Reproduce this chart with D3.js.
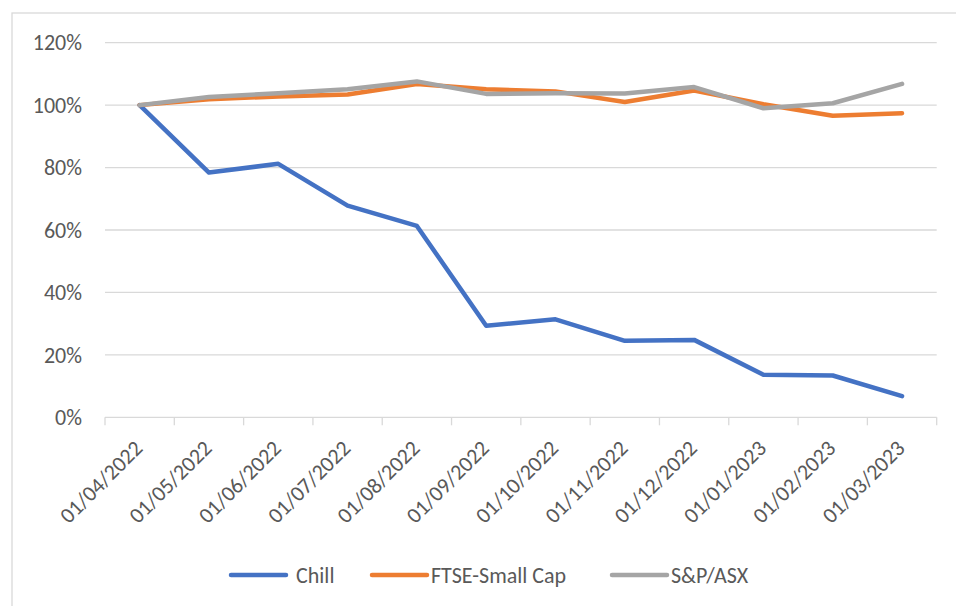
<!DOCTYPE html>
<html><head><meta charset="utf-8">
<script src="https://cdn.jsdelivr.net/npm/d3@7"></script>
<style>
html,body{margin:0;padding:0;background:#fff;}
svg{display:block;font-family:Carlito, Calibri, Lato, sans-serif;}
</style></head>
<body><svg id="c" width="956" height="606"></svg>
<script>
const categories = ["01/04/2022","01/05/2022","01/06/2022","01/07/2022","01/08/2022","01/09/2022","01/10/2022","01/11/2022","01/12/2022","01/01/2023","01/02/2023","01/03/2023"];
const chill = [1.000,0.784,0.812,0.678,0.613,0.293,0.314,0.245,0.248,0.136,0.134,0.068];
const ftse  = [1.000,1.019,1.028,1.034,1.068,1.051,1.044,1.010,1.047,1.003,0.966,0.974];
const spasx = [1.000,1.026,1.038,1.051,1.076,1.036,1.038,1.037,1.058,0.990,1.006,1.068];
const seriesNames = ["Chill","FTSE-Small Cap","S&P/ASX"];
const yTicks = [0,0.2,0.4,0.6,0.8,1.0,1.2];
const colors = ["#4472C4","#ED7D31","#A5A5A5"];

const svg = d3.select("#c");
const L = 105, R = 936.7, T = 42.7, B = 417.3;
const FS = 22;

// chart border
svg.append("rect").attr("x",12).attr("y",13).attr("width",960).attr("height",610)
  .attr("fill","#fff").attr("stroke","#d9d9d9").attr("stroke-width",1.3);

const x = d3.scaleBand().domain(categories).range([L,R]).padding(0);
const y = d3.scaleLinear().domain([0,1.2]).range([B,T]);

// gridlines
svg.append("g").selectAll("line").data(yTicks.slice(1)).join("line")
  .attr("x1",L).attr("x2",R).attr("y1",d=>y(d)).attr("y2",d=>y(d))
  .attr("stroke","#d9d9d9").attr("stroke-width",1.3);

// y labels
svg.append("g").selectAll("text").data(yTicks).join("text")
  .attr("x",82).attr("y",d=>y(d)).attr("dy","0.35em")
  .attr("text-anchor","end").attr("fill","#595959").attr("font-size",FS)
  .text(d=>d3.format(".0%")(d));

// x axis line + ticks
const ax = svg.append("g");
ax.append("line").attr("x1",L).attr("x2",R).attr("y1",B).attr("y2",B)
  .attr("stroke","#d9d9d9").attr("stroke-width",1.3);
const bounds = categories.map(c=>x(c)).concat([x(categories[categories.length-1])+x.bandwidth()]);
ax.selectAll("line.t").data(bounds).join("line").attr("class","t")
  .attr("x1",d=>d).attr("x2",d=>d).attr("y1",B).attr("y2",B+8)
  .attr("stroke","#d9d9d9").attr("stroke-width",1.3);

// x labels
svg.append("g").selectAll("text").data(categories).join("text")
  .attr("transform",d=>`translate(${x(d)+x.bandwidth()/2-7},${B+21}) rotate(-45)`)
  .attr("text-anchor","end").attr("dy","0.72em")
  .attr("fill","#595959").attr("font-size",FS).text(d=>d);

// lines
const data = [chill, ftse, spasx];
const line = d3.line().x((d,i)=>x(categories[i])+x.bandwidth()/2).y(d=>y(d));
svg.append("g").selectAll("path").data(data).join("path")
  .attr("d",line).attr("fill","none")
  .attr("stroke",(d,i)=>colors[i]).attr("stroke-width",4.5)
  .attr("stroke-linejoin","round").attr("stroke-linecap","round");

// legend
const legX = [231, 372, 612];
const lg = svg.append("g").selectAll("g").data(seriesNames).join("g")
  .attr("transform",(d,i)=>`translate(${legX[i]},575)`);
lg.append("line").attr("x1",0).attr("x2",55).attr("y1",0).attr("y2",0)
  .attr("stroke",(d,i)=>colors[i]).attr("stroke-width",4.5).attr("stroke-linecap","round");
lg.append("text").attr("x",(d,i)=> i===0?65:59).attr("y",0).attr("dy","0.35em")
  .attr("fill","#595959").attr("font-size",FS).text(d=>d);
</script></body></html>
